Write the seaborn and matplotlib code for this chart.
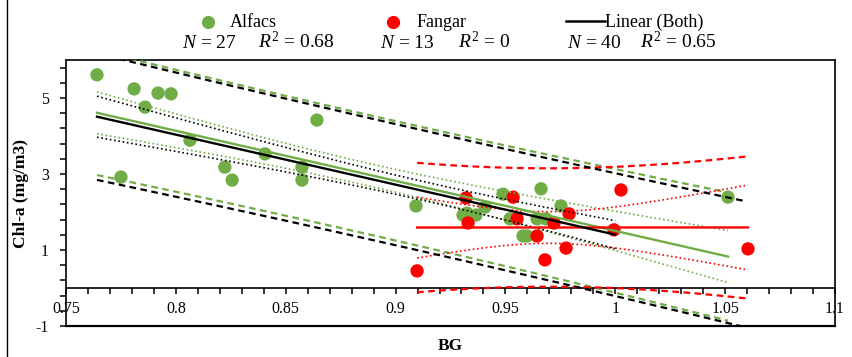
import numpy as np
import pandas as pd
import matplotlib
matplotlib.use("Agg")
import matplotlib.pyplot as plt
import seaborn as sns
from matplotlib.lines import Line2D
from matplotlib.ticker import FixedLocator, NullFormatter

# ---------------- data ----------------
alfacs_bg = [0.7641, 0.7750, 0.7810, 0.7860, 0.7919, 0.7978, 0.8064, 0.8223, 0.8256,
             0.8406, 0.8574, 0.8574, 0.8642, 0.9093, 0.9307, 0.9325, 0.9366, 0.9407,
             0.9489, 0.9521, 0.9580, 0.9598, 0.9644, 0.9662, 0.9685, 0.9753, 1.0513]
alfacs_chl = [5.61, 2.92, 5.24, 4.76, 5.13, 5.11, 3.89, 3.18, 2.84,
              3.53, 3.18, 2.84, 4.42, 2.16, 1.92, 1.97, 1.92, 2.13,
              2.47, 1.82, 1.37, 1.37, 1.82, 2.61, 1.82, 2.16, 2.39]
fangar_bg = [0.9098, 0.9321, 0.9330, 0.9535, 0.9553, 0.9644, 0.9680, 0.9721, 0.9776,
             0.9790, 0.9994, 1.0026, 1.0604]
fangar_chl = [0.45, 2.37, 1.71, 2.39, 1.82, 1.37, 0.74, 1.71, 1.05,
              1.95, 1.53, 2.58, 1.03]

x_ticks = [0.75, 0.80, 0.85, 0.90, 0.95, 1.00, 1.05, 1.10]
x_tick_labels = ["0.75", "0.8", "0.85", "0.9", "0.95", "1", "1.05", "1.1"]
y_ticks = [-1, 1, 3, 5]
y_tick_labels = ["-1", "1", "3", "5"]
legend_labels = ["Alfacs", "Fangar", "Linear (Both)"]
n_labels = ["27", "13", "40"]
r2_labels = ["0.68", "0", "0.65"]

GREEN = "#70AD47"
RED = "#FF0000"
BLACK = "#000000"

W, H = 852, 357
plt.rcParams["font.family"] = ["Liberation Serif", "DejaVu Serif"]
plt.rcParams["mathtext.fontset"] = "custom"
plt.rcParams["mathtext.rm"] = "Liberation Serif"
plt.rcParams["mathtext.it"] = "Liberation Serif:italic"
plt.rcParams["mathtext.bf"] = "Liberation Serif:bold"


def t975(df):
    try:
        from scipy import stats
        return float(stats.t.ppf(0.975, df))
    except Exception:
        table = {11: 2.201, 25: 2.060, 38: 2.024}
        return table.get(df, 2.0)


def fit_bands(x, y, grid):
    x = np.asarray(x, float)
    y = np.asarray(y, float)
    n = len(x)
    b1, b0 = np.polyfit(x, y, 1)
    yhat = b0 + b1 * grid
    resid = y - (b0 + b1 * x)
    s = np.sqrt(np.sum(resid ** 2) / (n - 2))
    sxx = np.sum((x - x.mean()) ** 2)
    h = 1.0 / n + (grid - x.mean()) ** 2 / sxx
    t = t975(n - 2)
    return yhat, t * s * np.sqrt(h), t * s * np.sqrt(1 + h)


fig = plt.figure(figsize=(W / 100, H / 100), dpi=100)
L, R, T, B = 66, 835, 60, 326
ax = fig.add_axes([L / W, 1 - B / H, (R - L) / W, (B - T) / H])

pts = pd.concat([
    pd.DataFrame({"BG": alfacs_bg, "Chl": alfacs_chl, "Site": "Alfacs"}),
    pd.DataFrame({"BG": fangar_bg, "Chl": fangar_chl, "Site": "Fangar"}),
])
sns.scatterplot(data=pts, x="BG", y="Chl", hue="Site",
                palette={"Alfacs": GREEN, "Fangar": RED},
                s=92, linewidth=0, legend=False, ax=ax, zorder=2)

dash = (3, 2)
dot = (1, 1.6)


def draw_fit(x, y, color, x_end_main=None, x_end_pi=None):
    x0 = min(x)
    x1 = max(x) if x_end_main is None else x_end_main
    x2 = max(x) if x_end_pi is None else x_end_pi
    g1 = np.linspace(x0, x1, 120)
    g2 = np.linspace(x0, x2, 120)
    yhat, ci, _ = fit_bands(x, y, g1)
    yhat2, _, pi = fit_bands(x, y, g2)
    sns.lineplot(x=g1, y=yhat, color=color, lw=1.7, ax=ax, sort=False,
                 estimator=None, zorder=4)
    for sgn in (1, -1):
        ax.plot(g1, yhat + sgn * ci, color=color, lw=1.2, dashes=dot, zorder=3)
        ax.plot(g2, yhat2 + sgn * pi, color=color, lw=1.6, dashes=dash, zorder=3)


draw_fit(alfacs_bg, alfacs_chl, GREEN)
draw_fit(fangar_bg, fangar_chl, RED)
both_bg = alfacs_bg + fangar_bg
both_chl = alfacs_chl + fangar_chl
draw_fit(both_bg, both_chl, BLACK, x_end_main=1.0, x_end_pi=1.058)

# ---------------- axes styling ----------------
ax.set_xlim(0.75, 1.1)
ax.set_ylim(-1, 6)
for sp in ax.spines.values():
    sp.set_linewidth(1.2)
    sp.set_color("black")
ax.spines["bottom"].set_position(("data", 0))
ax.axhline(-1, color="black", lw=1.6, clip_on=False, zorder=5)

ax.xaxis.set_major_locator(FixedLocator(x_ticks))
ax.set_xticklabels(x_tick_labels)
ax.xaxis.set_minor_locator(FixedLocator(np.round(np.arange(0.75, 1.1001, 0.01), 3)))
ax.yaxis.set_major_locator(FixedLocator(y_ticks))
ax.set_yticklabels(y_tick_labels)
ax.yaxis.set_minor_locator(FixedLocator(np.round(np.arange(-1, 6.0, 0.4), 2)))
ax.yaxis.set_minor_formatter(NullFormatter())
ax.tick_params(axis="both", which="both", direction="out", length=4.5, width=1.1,
               colors="black", labelsize=11.5)
ax.tick_params(axis="y", which="major", pad=8)
ax.tick_params(axis="x", which="major", pad=5)
ax.grid(False)
ax.set_facecolor("white")

ax.set_xlabel("BG", fontsize=12.5, fontweight="bold", va="top")
ax.xaxis.set_label_coords(0.5, -(338 - B) / (B - T))
ax.set_ylabel("Chl-a (mg/m3)", fontsize=12.5, fontweight="bold")
ax.yaxis.set_label_coords(-(L - 29) / (R - L), 0.5)

# ---------------- legend (figure level, manual) ----------------
def fx(px):
    return px / W


def fy(py):
    return 1 - py / H


fig.add_artist(Line2D([fx(208)], [fy(21.5)], marker="o", ms=9.5, color=GREEN,
                      markeredgewidth=0, transform=fig.transFigure))
fig.add_artist(Line2D([fx(393)], [fy(21.5)], marker="o", ms=9.5, color=RED,
                      markeredgewidth=0, transform=fig.transFigure))
fig.add_artist(Line2D([fx(566), fx(605)], [fy(20.5), fy(20.5)], color=BLACK, lw=1.8,
                      transform=fig.transFigure))

lab_x = [230, 417, 605]
n_x = [182, 380, 567]
r_x = [258, 458, 640]
for i in range(3):
    fig.text(fx(lab_x[i]), fy(27), legend_labels[i], fontsize=13, va="baseline", ha="left")
    fig.text(fx(n_x[i]), fy(48), r"$N$" + " = " + n_labels[i], fontsize=14,
             va="baseline", ha="left")
    fig.text(fx(r_x[i]), fy(48), r"$R^{2}$" + " = " + r2_labels[i], fontsize=14,
             va="baseline", ha="left")

# left border of the chart area
fig.add_artist(Line2D([fx(6.5), fx(6.5)], [0, 1], color="black", lw=1.0,
                      transform=fig.transFigure))

fig.savefig("out.png", dpi=100, facecolor="white")
